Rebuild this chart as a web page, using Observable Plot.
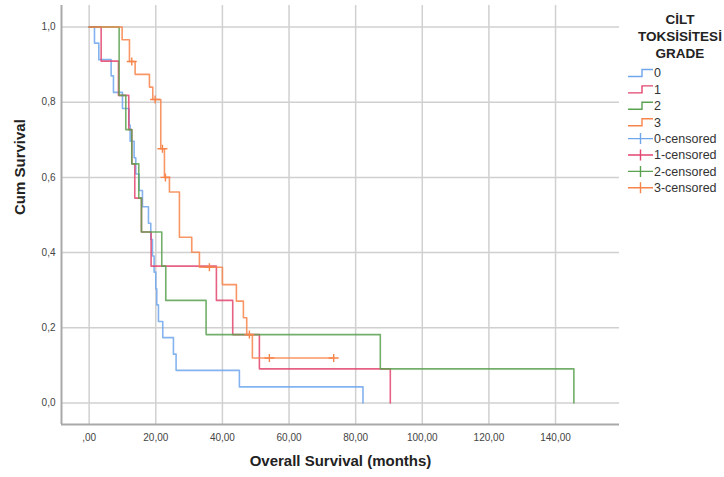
<!DOCTYPE html>
<html><head><meta charset="utf-8">
<script src="https://cdn.jsdelivr.net/npm/d3@7"></script>
<script src="https://cdn.jsdelivr.net/npm/@observablehq/plot@0.6"></script>
<style>
body{margin:0;background:#fff;}
#wrap{position:relative;width:724px;height:477px;font-family:"Liberation Sans",Arial,sans-serif;}
#legend{position:absolute;left:620px;top:0;}
</style>
</head><body><div id="wrap"></div>
<script>
const groups = ["0", "1", "2", "3"];
const colors = ["#6fa6ec", "#e2456f", "#5aa150", "#f7844a"];
const legendTitle = ["CİLT", "TOKSİSİTESİ", "GRADE"];
const legendLabels = ["0", "1", "2", "3", "0-censored", "1-censored", "2-censored", "3-censored"];

// event times (months) and cumulative survival after each event
const t0 = [1.6, 2.9, 6.6, 7.3, 10.0, 12.0, 12.3, 13.5, 14.0, 15.0, 16.0, 17.8, 18.5, 19.0, 19.5, 20.0, 20.3, 20.8, 22.1, 25.3, 26.1, 45.1, 82.2];
const s0 = [0.957, 0.913, 0.870, 0.826, 0.783, 0.739, 0.696, 0.652, 0.609, 0.565, 0.522, 0.478, 0.435, 0.391, 0.348, 0.304, 0.261, 0.217, 0.174, 0.130, 0.087, 0.043, 0];
const t1 = [3.6, 8.8, 11.9, 12.8, 13.7, 15.7, 18.6, 38.2, 43.1, 51.1, 90.4];
const s1 = [0.909, 0.818, 0.727, 0.636, 0.545, 0.455, 0.364, 0.273, 0.182, 0.091, 0];
const t2 = [9.0, 11.0, 12.8, 14.9, 15.7, 21.8, 23.0, 35.1, 87.4, 145.5];
const s2 = [0.818, 0.727, 0.636, 0.545, 0.455, 0.364, 0.273, 0.182, 0.091, 0];
const t3 = [9.9, 12.1, 13.8, 18.1, 19.1, 21.5, 22.6, 24.1, 27.1, 30.8, 33.1, 40.0, 44.2, 46.3, 47.3, 49.0, 73.4];
const s3 = [0.966, 0.908, 0.874, 0.840, 0.807, 0.676, 0.600, 0.561, 0.441, 0.401, 0.361, 0.315, 0.271, 0.227, 0.182, 0.120, 0.120];
// censored times
const c3 = [12.8, 19.8, 22.0, 22.9, 36.1, 48.1, 54.1, 73.4];

const xTicks = [0, 20, 40, 60, 80, 100, 120, 140];
const yTicks = [0, 0.2, 0.4, 0.6, 0.8, 1.0];
const xDomain = [-8.3, 159.2];
const yDomain = [-0.057, 1.057];

const series = [[t0, s0], [t1, s1], [t2, s2], [t3, s3]];
const rows = [];
series.forEach(([t, s], i) => {
  rows.push({g: groups[i], t: 0, s: 1});
  t.forEach((tt, j) => rows.push({g: groups[i], t: tt, s: s[j]}));
});
function survAt(t, s, x) {
  let v = 1;
  t.forEach((tt, j) => { if (tt <= x) v = s[j]; });
  return v;
}
const censored = c3.map(x => ({g: "3", t: x, s: survAt(t3, s3, x)}));

const crossSymbol = {
  draw(ctx, size) {
    const r = Math.sqrt(size / Math.PI);
    ctx.moveTo(-r, 0); ctx.lineTo(r, 0);
    ctx.moveTo(0, -r * 0.8); ctx.lineTo(0, r * 0.8);
  }
};

const fmtX = d => d === 0 ? ",00" : d.toFixed(2).replace(".", ",");
const fmtY = d => d.toFixed(1).replace(".", ",");

const chart = Plot.plot({
  width: 724, height: 477,
  marginLeft: 61, marginRight: 105, marginTop: 5, marginBottom: 53,
  style: {fontFamily: "Liberation Sans, Arial, sans-serif", background: "#fff"},
  x: {domain: xDomain},
  y: {domain: yDomain},
  color: {domain: groups, range: colors},
  marks: [
    Plot.gridX(xTicks, {stroke: "#d0d0d0", strokeOpacity: 1, strokeWidth: 1.5}),
    Plot.gridY(yTicks, {stroke: "#d0d0d0", strokeOpacity: 1, strokeWidth: 1.5}),
    Plot.ruleX([xDomain[0]], {stroke: "#a9a9a9", strokeWidth: 2}),
    Plot.ruleY([yDomain[0]], {stroke: "#a9a9a9", strokeWidth: 2}),
    Plot.axisX(xTicks, {tickSize: 0, tickPadding: 9, tickFormat: fmtX, fontSize: 10, fill: "#444", label: null}),
    Plot.axisY(yTicks, {tickSize: 0, tickPadding: 6, tickFormat: fmtY, fontSize: 10, fill: "#444", label: null}),
    Plot.line(rows, {x: "t", y: "s", z: "g", stroke: "g", curve: "step-after", strokeWidth: 1.6, strokeOpacity: 0.85}),
    Plot.dot(censored, {x: "t", y: "s", stroke: "g", fill: "none", symbol: crossSymbol, r: 5, strokeWidth: 1.4}),
    Plot.text(["Overall Survival (months)"], {frameAnchor: "bottom", dy: 41, fontSize: 15, fontWeight: "bold", fill: "#222"}),
    Plot.text(["Cum Survival"], {frameAnchor: "left", dx: -41, rotate: -90, fontSize: 15, fontWeight: "bold", fill: "#222"})
  ]
});
const wrap = document.getElementById("wrap");
wrap.appendChild(chart);

// legend
const lg = d3.select(wrap).append("svg").attr("id", "legend").attr("width", 104).attr("height", 200)
  .style("font-family", "Liberation Sans, Arial, sans-serif");
lg.selectAll("text.title").data(legendTitle).join("text")
  .attr("x", 60).attr("y", (d, i) => 19 + i * 17).attr("dy", "0.35em")
  .attr("text-anchor", "middle").attr("font-size", 13.5).attr("font-weight", "bold").attr("fill", "#222")
  .text(d => d);
legendLabels.forEach((lab, i) => {
  const y = 73 + i * 16.4;
  const c = colors[i % 4];
  if (i < 4) {
    lg.append("path").attr("d", `M8,${y + 3.5}H22V${y - 3.5}H33`).attr("fill", "none").attr("stroke", c).attr("stroke-width", 1.4);
  } else {
    lg.append("path").attr("d", `M8,${y}H33M20.5,${y - 5.5}V${y + 5.5}`).attr("fill", "none").attr("stroke", c).attr("stroke-width", 1.4);
  }
  lg.append("text").attr("x", 34).attr("y", y).attr("dy", "0.35em").attr("font-size", 12.5).attr("fill", "#333").text(lab);
});
</script>
</body></html>
